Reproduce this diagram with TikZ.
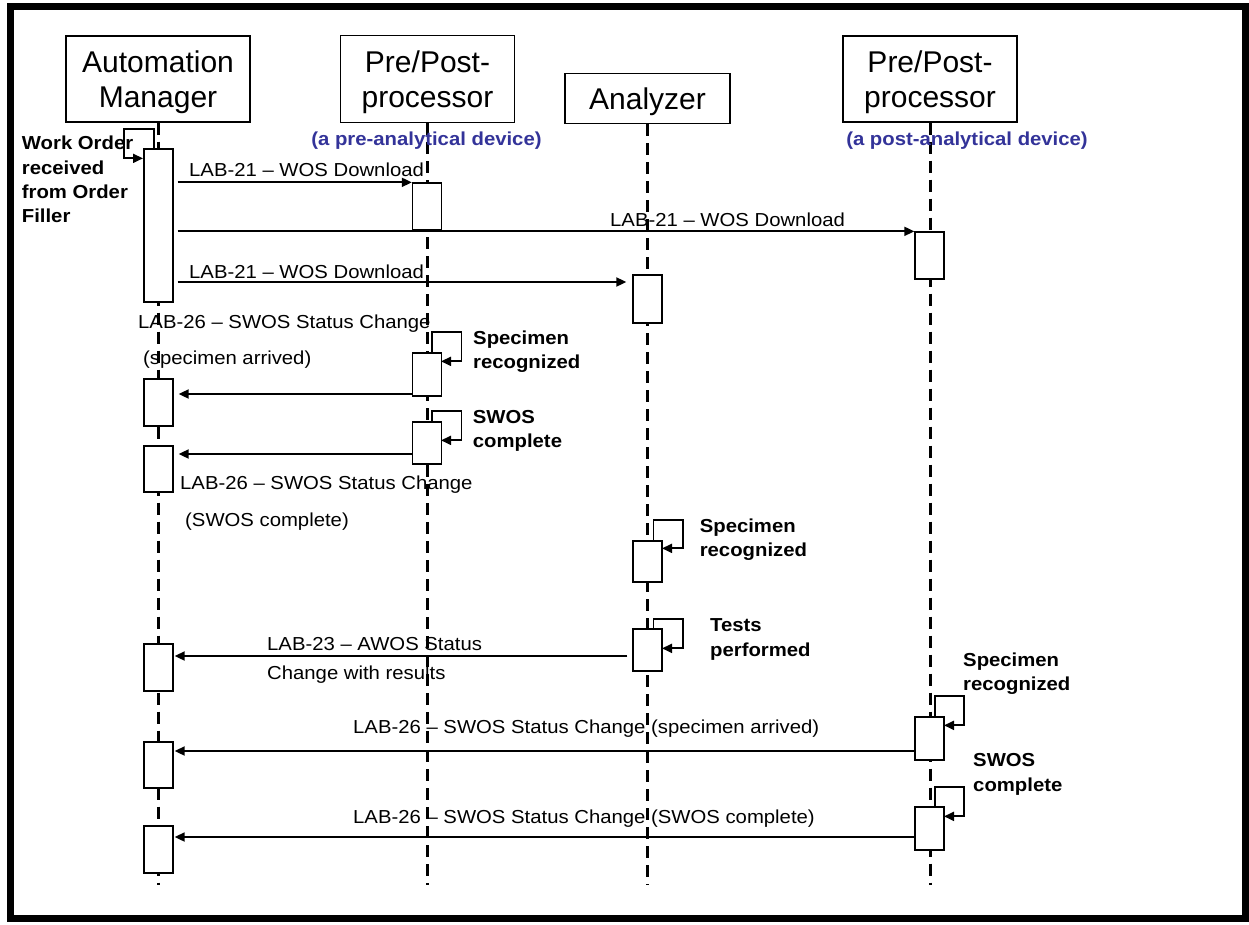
\documentclass[tikz,border=0pt]{standalone}
\usepackage{fontspec}
\setmainfont{Liberation Sans}
\newfontfamily\lblfont{Liberation Sans}[FakeStretch=1.08]
\usetikzlibrary{arrows.meta}
\definecolor{subblue}{RGB}{51,51,153}
\begin{document}
\begin{tikzpicture}[x=1pt,y=-1pt,
  actor/.style={draw,line width=1.3pt,inner sep=0pt,align=center,font=\fontsize{30}{35}\selectfont},
  actorone/.style={draw,line width=1.3pt,inner sep=0pt,text depth=0pt,font=\fontsize{30}{35}\selectfont},
  life/.style={line width=3pt,dash pattern=on 12pt off 7pt},
  act/.style={draw,fill=white,line width=1.3pt,minimum width=29pt,inner sep=0pt},
  msg/.style={line width=1.8pt,-{Triangle[length=10pt,width=9pt]}},
  lbl/.style={inner sep=0pt,anchor=west,text height=13.5pt,text depth=0pt,font=\lblfont\fontsize{18.8}{22}\selectfont},
  note/.style={inner sep=0pt,anchor=west,align=left,font=\lblfont\bfseries\fontsize{18.8}{24.3}\selectfont},
  sub/.style={inner sep=0pt,text height=13.5pt,text depth=0pt,text=subblue,font=\lblfont\bfseries\fontsize{18.8}{22}\selectfont},
]
\useasboundingbox (0,0) rectangle (1249,924);
\fill[white] (0,0) rectangle (1249,924);
\draw[line width=7pt] (10,6) rectangle (1245,918);

% actors
\node[actor,minimum width=184pt,minimum height=86pt] (am) at (158,79) {Automation\\\smash{Manager}};
\node[actor,minimum width=174pt,minimum height=87pt] (pp1) at (427.5,79) {Pre/Post-\\\smash{processor}};
\node[actorone,minimum width=165pt,minimum height=50pt] (an) at (647.5,98.5) {Analyzer};
\node[actor,minimum width=174pt,minimum height=86pt] (pp2) at (930,79) {Pre/Post-\\\smash{processor}};

% lifelines
\coordinate (bot) at (0,885);
\draw[life] (am.south) -- (am.south |- bot);
\draw[life] (pp1.south) -- (pp1.south |- bot);
\draw[life] (an.south) -- (an.south |- bot);
\draw[life] (pp2.south) -- (pp2.south |- bot);

% subtitles
\node[sub] (s1) at (426.5,139) {(a pre-analytical device)};
\node[sub] (s2) at (967,139) {(a post-analytical device)};

% activation boxes
\node[act,minimum height=153pt] (am1) at (158.5,225.5) {};
\node[act,minimum height=47pt] (am2) at (158.5,402.5) {};
\node[act,minimum height=46pt] (am3) at (158.5,469) {};
\node[act,minimum height=47pt] (am4) at (158.5,667.5) {};
\node[act,minimum height=46pt] (am5) at (158.5,765) {};
\node[act,minimum height=47pt] (am6) at (158.5,849.5) {};
\node[act,minimum height=47pt] (p1a) at (427,206.5) {};
\node[act,minimum height=43pt] (p1b) at (427,374.5) {};
\node[act,minimum height=42pt] (p1c) at (427,443) {};
\node[act,minimum height=48pt] (ana) at (647.5,299) {};
\node[act,minimum height=41pt] (anb) at (647.5,561.5) {};
\node[act,minimum height=42pt] (anc) at (647.5,650) {};
\node[act,minimum height=47pt] (p2a) at (929.5,255.5) {};
\node[act,minimum height=43pt] (p2b) at (929.5,738.5) {};
\node[act,minimum height=43pt] (p2c) at (929.5,828.5) {};

% message levels
\coordinate (y3) at (0,282);
\coordinate (y4) at (0,394);
\coordinate (y5) at (0,454);
\coordinate (y6) at (0,656);
\coordinate (y7) at (0,751);
\coordinate (y8) at (0,837);

% messages
\draw[msg,shorten <=4pt] (am1.east |- p1a.north) -- (p1a.north west);
\draw[msg,shorten <=4pt] (am1.east |- p2a.north) -- (p2a.north west);
\draw[msg,shorten <=4pt,shorten >=6pt] (am1.east |- y3) -- (ana.west |- y3);
\draw[msg,shorten >=5pt] (p1b.west |- y4) -- (am2.east |- y4);
\draw[msg,shorten >=5pt] (p1c.west |- y5) -- (am3.east |- y5);
\draw[msg,shorten <=5pt,shorten >=1pt] (anc.west |- y6) -- (am4.east |- y6);
\draw[msg,shorten >=1pt] (p2b.west |- y7) -- (am5.east |- y7);
\draw[msg,shorten >=1pt] (p2c.west |- y8) -- (am6.east |- y8);

% self messages
\draw[msg] ([xshift=-4.5pt]am1.north) -- ++(0,-19) -- ++(-30,0) -- ++(0,29) -- ++(19,0);
\draw[msg] ([xshift=5pt]p1b.north) -- ++(0,-20) -- ++(29.5,0) -- ++(0,29) -- ++(-20.5,0);
\draw[msg] ([xshift=5pt]p1c.north) -- ++(0,-10) -- ++(29.5,0) -- ++(0,29) -- ++(-20.5,0);
\draw[msg] ([xshift=6pt]anb.north) -- ++(0,-20) -- ++(29.5,0) -- ++(0,28) -- ++(-21,0);
\draw[msg] ([xshift=6pt]anc.north) -- ++(0,-9) -- ++(29.5,0) -- ++(0,29) -- ++(-21,0);
\draw[msg] ([xshift=5.5pt]p2b.north) -- ++(0,-20) -- ++(29,0) -- ++(0,29) -- ++(-20,0);
\draw[msg] ([xshift=5.5pt]p2c.north) -- ++(0,-19) -- ++(29,0) -- ++(0,29) -- ++(-20,0);

% message labels
\node[lbl] (t1) at (189,170) {LAB-21 – WOS Download};
\node[lbl] (t2) at (610,220) {LAB-21 – WOS Download};
\node[lbl] (t3) at (189,272) {LAB-21 – WOS Download};
\node[lbl] (t4a) at (138,322) {LAB-26 – SWOS Status Change};
\node[lbl] (t4b) at (143,358) {(specimen arrived)};
\node[lbl] (t5a) at (180,483) {LAB-26 – SWOS Status Change};
\node[lbl] (t5b) at (185,520) {(SWOS complete)};
\node[lbl] (t6a) at (267,644) {LAB-23 – AWOS Status};
\node[lbl] (t6b) at (267,673) {Change with results};
\node[lbl] (t7) at (353,727) {LAB-26 – SWOS Status Change (specimen arrived)};
\node[lbl] (t8) at (353,817) {LAB-26 – SWOS Status Change (SWOS complete)};

% notes
\node[note] (n0) at (21.7,179.4) {Work Order\\received\\from Order\\\smash{Filler}};
\node[note] (n1) at (473,350) {Specimen\\\smash{recognized}};
\node[note] (n2) at (472.7,429) {SWOS\\\smash{complete}};
\node[note] (n3) at (699.6,537.4) {Specimen\\\smash{recognized}};
\node[note] (n4) at (710,637.5) {Tests\\\smash{performed}};
\node[note] (n5) at (963,671.4) {Specimen\\\smash{recognized}};
\node[note] (n6) at (973,772.4) {SWOS\\\smash{complete}};
\end{tikzpicture}
\end{document}
